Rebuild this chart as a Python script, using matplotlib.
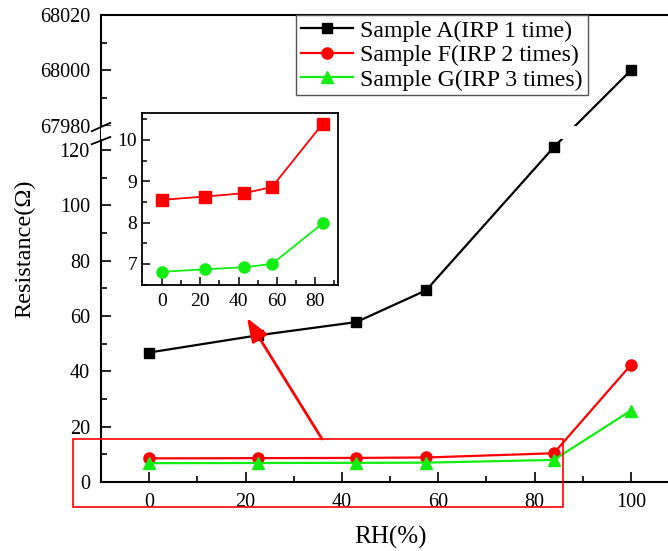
import numpy as np
import matplotlib
matplotlib.use("Agg")
import matplotlib.pyplot as plt
import matplotlib.transforms as mtransforms
from matplotlib.patches import Rectangle, FancyArrowPatch

plt.rcParams['font.family'] = ['Liberation Serif', 'DejaVu Serif']
plt.rcParams['mathtext.fontset'] = 'stix'

# data
rh = [0, 22.5, 43, 57.5, 84, 100]
sample_a = [46.8, 53.0, 57.8, 69.3, 121.0, 68000]
sample_f = [8.55, 8.63, 8.71, 8.86, 10.39, 42.3]
sample_g = [6.81, 6.87, 6.92, 7.00, 7.98, 25.8]
labels = ['Sample A(IRP 1 time)', 'Sample F(IRP 2 times)', 'Sample G(IRP 3 times)']
yticks = [0, 20, 40, 60, 80, 100, 120, 67980, 68000, 68020]
yminor = [10, 30, 50, 70, 90, 110, 67990, 68010]

# broken y axis: values above the break are shifted down
BREAK_LO = 123.7
BREAK_HI = 128.8
OFFSET = 67980 - BREAK_HI


def fwd(y):
    y = np.asarray(y, dtype=float)
    return np.where(y > 1000, y - OFFSET, y)


def inv(t):
    t = np.asarray(t, dtype=float)
    return np.where(t > (BREAK_LO + BREAK_HI) / 2, t + OFFSET, t)


W, H = 668, 551
fig = plt.figure(figsize=(W / 100, H / 100), dpi=100)
ax = fig.add_axes([101 / W, 1 - 482 / H, 578 / W, 467 / H])

red = '#ff0000'
green = '#11ee11'

ax.plot(rh, sample_a, color='black', lw=1.6, marker='s', ms=7, label=labels[0], zorder=2)
ax.plot(rh, sample_f, color=red, lw=1.6, marker='o', ms=8, label=labels[1], zorder=2)
ax.plot(rh, sample_g, color=green, lw=1.6, marker='^', ms=8, label=labels[2], zorder=2)

ax.set_yscale('function', functions=(fwd, inv))
ax.set_ylim(0, 68020)
ax.set_xlim(-10, 110)
ax.set_yticks(yticks)
ax.set_yticklabels([str(v) for v in yticks])
ax.set_yticks(yminor, minor=True)
ax.set_xticks([0, 20, 40, 60, 80, 100])
ax.set_xticks([10, 30, 50, 70, 90], minor=True)

ax.tick_params(which='both', direction='in', width=1.2, labelsize=14.5)
ax.tick_params(which='major', length=7)
ax.tick_params(which='minor', length=4)
ax.tick_params(axis='x', pad=8)
ax.tick_params(axis='y', pad=8)
for s in ax.spines.values():
    s.set_linewidth(1.5)

ax.set_xlabel('RH(%)', fontsize=18)
ax.set_ylabel('Resistance(Ω)', fontsize=17.5)
ax.xaxis.set_label_coords(0.5, -0.095)
ax.yaxis.set_label_coords(-0.114, 0.5)

# white gap across the break
ax.axhspan(BREAK_LO + 0.3, 67979.7, color='white', zorder=3, lw=0)
# break marks on the y axis
bt = mtransforms.blended_transform_factory(ax.transAxes, ax.transData)
for y0, y1 in [(BREAK_LO - 1.6, BREAK_LO + 1.0), (67978.0, 67981.0)]:
    ax.plot([-0.016, 0.016], [y0, y1], color='black', lw=1.3, transform=bt,
            clip_on=False, zorder=4)

leg = ax.legend(loc='upper left', bbox_to_anchor=(0.337, 1.0), borderaxespad=0,
                fontsize=17.2, fancybox=False, edgecolor='#555555', framealpha=1,
                handlelength=2.2, handletextpad=0.3, borderpad=0.2, labelspacing=0.12)
leg.get_frame().set_linewidth(1.0)

# inset zoom of the low values
ins = fig.add_axes([142 / W, 1 - 285 / H, 196 / W, 172 / H])
ins.plot(rh[:5], sample_f[:5], color=red, lw=1.3, marker='s', ms=8)
ins.plot(rh[:5], sample_g[:5], color=green, lw=1.3, marker='o', ms=8)
ins.set_xlim(-10.5, 92)
ins.set_ylim(6.49, 10.65)
ins.set_xticks([0, 20, 40, 60, 80])
ins.set_xticks([10, 30, 50, 70, 90], minor=True)
ins.set_yticks([7, 8, 9, 10])
ins.set_yticks([6.5, 7.5, 8.5, 9.5, 10.5], minor=True)
ins.tick_params(which='both', direction='in', width=1.1, labelsize=14)
ins.tick_params(which='major', length=6)
ins.tick_params(which='minor', length=3.5)
ins.tick_params(axis='x', pad=6)
for s in ins.spines.values():
    s.set_linewidth(1.3)

# red box and arrow pointing to the inset
fig.patches.append(Rectangle((73 / W, 1 - 507 / H), 490 / W, 68 / H,
                             transform=fig.transFigure, fill=False,
                             edgecolor=red, lw=1.2))
fig.patches.append(FancyArrowPatch((322 / W, 1 - 439 / H), (247 / W, 1 - 318 / H),
                                   transform=fig.transFigure,
                                   arrowstyle='-|>,head_length=0.8,head_width=0.3',
                                   mutation_scale=18, color=red, lw=2,
                                   shrinkA=0, shrinkB=0))

fig.savefig('out.png', dpi=100)
